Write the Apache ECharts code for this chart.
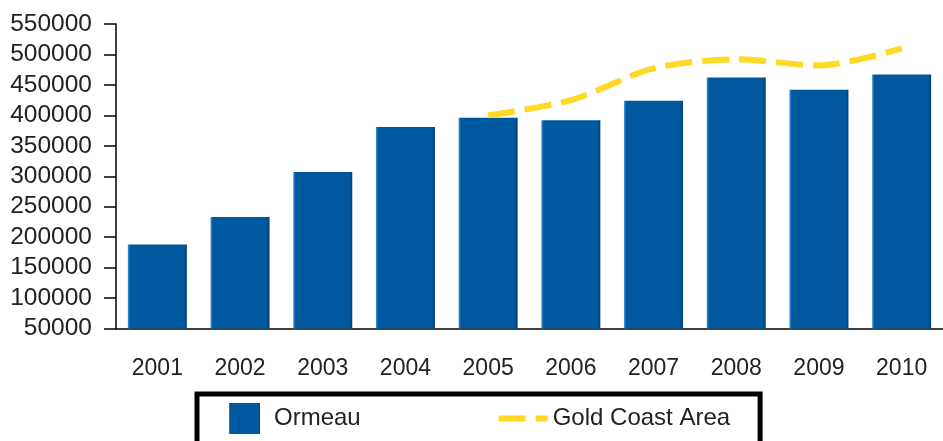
<html lang="en">
<head>
    <meta charset="UTF-8">
    <script src="https://cdn.jsdelivr.net/npm/echarts@6/dist/echarts.min.js"></script>
    <title>Ormeau vs Gold Coast Area</title>
    <style>
      body { margin: 0; background: #fff; }
    </style>
</head>
<body>

<div id="main" style="width: 943px;height:441px;"></div>

<script>
  // chart data
  var years = ['2001', '2002', '2003', '2004', '2005', '2006', '2007', '2008', '2009', '2010'];
  var ormeau = [188000, 233000, 307000, 381000, 396000, 392000, 424000, 462000, 442000, 467000];
  var goldCoast = [null, null, null, null, 400000, 425000, 477000, 492000, 482000, 510000];
  var yTicks = { min: 50000, max: 550000, step: 50000 };

  var myChart = echarts.init(document.getElementById('main'));

  var font = 'Liberation Sans, Arial, sans-serif';

  var option = {
      animation: false,
      grid: {
          left: 116,
          top: 24,
          width: 834,
          height: 304.5
      },
      legend: {
          left: 197,
          top: 394,
          orient: 'horizontal',
          itemWidth: 49,
          itemHeight: 31,
          itemGap: 138,
          padding: [9, 30, 40, 32],
          borderColor: '#000',
          borderWidth: 5,
          textStyle: { fontFamily: font, fontSize: 24, color: '#222' },
          data: [
              { name: 'Ormeau', icon: 'path://M0,0h31v31h-31z' },
              // dashed legend swatch: long dash, gap, short dash
              { name: 'Gold Coast Area', icon: 'path://M0,0h27v6h-27z M37,0h12v6h-12z' }
          ]
      },
      xAxis: {
          type: 'category',
          data: years,
          axisLine: { lineStyle: { color: '#000', width: 1.5 } },
          axisTick: { alignWithLabel: true, length: 12, lineStyle: { color: '#000', width: 1.5 } },
          axisLabel: { margin: 29, fontFamily: font, fontSize: 23, color: '#222' }
      },
      yAxis: {
          type: 'value',
          min: yTicks.min,
          max: yTicks.max,
          interval: yTicks.step,
          splitLine: { show: false },
          axisLine: { show: true, lineStyle: { color: '#000', width: 1.5 } },
          axisTick: { show: true, length: 12, lineStyle: { color: '#000', width: 1.5 } },
          axisLabel: {
              margin: 24, fontFamily: font, fontSize: 24.5, color: '#222',
              formatter: function (v) { return String(v); }
          }
      },
      series: [{
          name: 'Ormeau',
          type: 'bar',
          barWidth: 59,
          data: ormeau,
          itemStyle: {
              color: new echarts.graphic.LinearGradient(0, 0, 1, 0, [
                  { offset: 0, color: '#3b93e0' },
                  { offset: 0.04, color: '#00589e' },
                  { offset: 0.95, color: '#00589e' },
                  { offset: 1, color: '#00406f' }
              ])
          }
      }, {
          name: 'Gold Coast Area',
          type: 'line',
          smooth: 0.3,
          symbol: 'none',
          data: goldCoast,
          itemStyle: { color: '#ffd923' },
          lineStyle: { color: '#ffd923', width: 6, type: [27, 10] },
          z: 3
      }]
  };

  myChart.setOption(option);
</script>

</body>
</html>
